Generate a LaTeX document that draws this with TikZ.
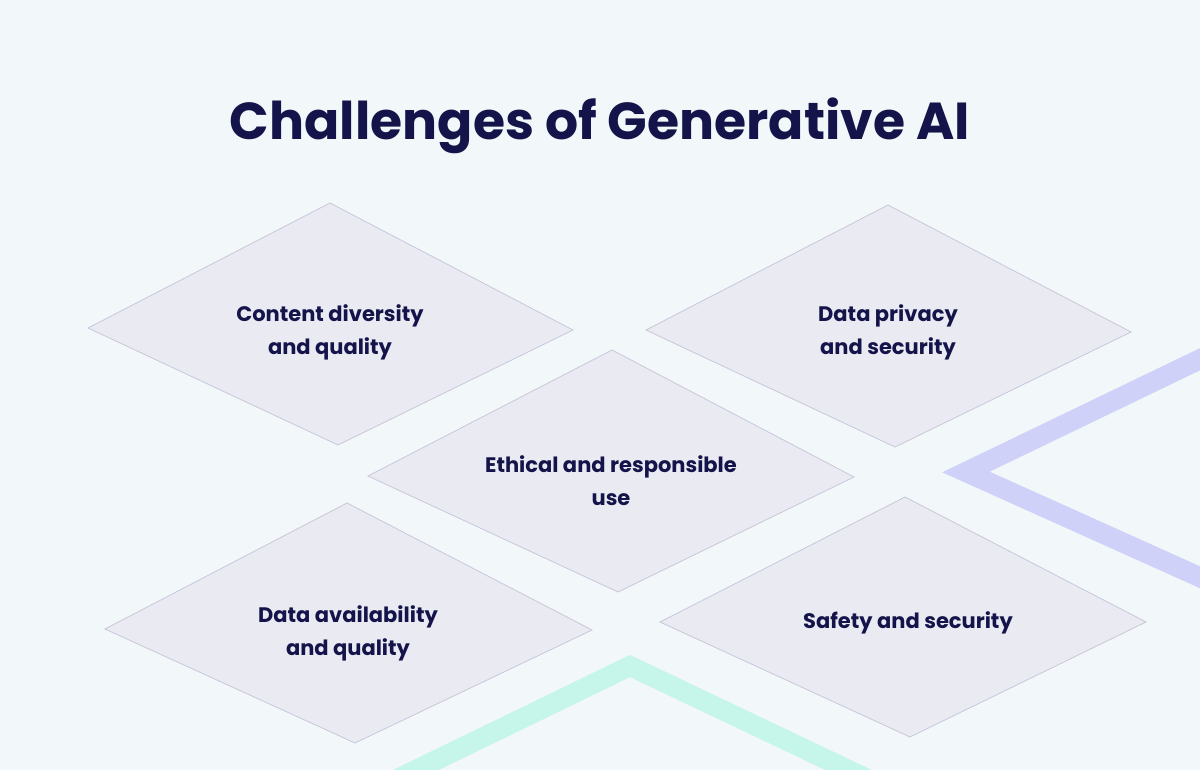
\documentclass[tikz,border=0pt]{standalone}
\usepackage{fontspec}
\setmainfont{Poppins}
\definecolor{bg}{HTML}{F2F7F9}
\definecolor{dfill}{HTML}{EAEAF3}
\definecolor{dline}{HTML}{C8C8DA}
\definecolor{navy}{HTML}{14144A}
\definecolor{purp}{HTML}{CFD1F8}
\definecolor{mint}{HTML}{C6F5E9}
\tikzset{dia/.style={fill=dfill,draw=dline,line width=0.8pt,line join=miter},
lbl/.style={text=navy,font=\fontsize{21}{33}\selectfont\bfseries,align=center}}
\begin{document}
\begin{tikzpicture}[x=1pt,y=-1pt]
\fill[bg] (0,0) rectangle (1200,770);
\useasboundingbox (0,0) rectangle (1200,770);
\draw[purp,line width=20pt,line join=miter] (1215,352) -- (966,472) -- (1215,584);
\draw[mint,line width=20pt,line join=miter] (385,785) -- (630,666) -- (880,785);
\node[text=navy,font=\fontsize{52}{62}\selectfont\bfseries] (title) at (600,126) {Challenges of Generative AI};
\draw[dia] (330,203) -- (573,330) -- (338,445) -- (88,328) -- cycle;
\draw[dia] (888,205) -- (1131,332) -- (895,447) -- (646,330) -- cycle;
\draw[dia] (612,350) -- (854,477) -- (618,592) -- (368,476) -- cycle;
\draw[dia] (347,503) -- (592,630) -- (355,743) -- (105,629) -- cycle;
\draw[dia] (905,497) -- (1146,622) -- (910,737) -- (660,622) -- cycle;
\node[lbl] (a) at (330,332) {Content diversity\\and quality};
\node[lbl] (b) at (888,332) {Data privacy\\and security};
\node[lbl] (c) at (611,481) {Ethical and responsible\\use};
\node[lbl] (d) at (348,633) {Data availability\\and quality};
\node[lbl] (e) at (908,623) {Safety and security};
\end{tikzpicture}
\end{document}
